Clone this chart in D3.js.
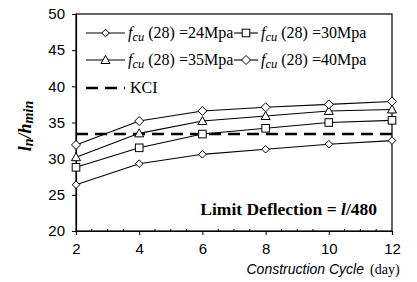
<!DOCTYPE html>
<html>
<head>
<meta charset="utf-8">
<script src="https://cdn.jsdelivr.net/npm/d3@7"></script>
<style>
  body { margin: 0; background: #fff; }
  svg { display: block; }
</style>
</head>
<body>
<svg id="chart" width="417" height="282"></svg>
<script>
// data
let cycles = [2, 4, 6, 8, 10, 12];
let fcu24 = [26.4, 29.3, 30.6, 31.3, 32.0, 32.5];
let fcu30 = [28.8, 31.5, 33.4, 34.2, 35.0, 35.3];
let fcu35 = [30.2, 33.5, 35.2, 35.9, 36.6, 36.8];
let fcu40 = [31.9, 35.2, 36.6, 37.1, 37.5, 37.9];
let kciValue = 33.4;
let xTicks = [2, 4, 6, 8, 10, 12];
let yTicks = [20, 25, 30, 35, 40, 45, 50];

let series = [
  { label: "24Mpa", values: fcu24, marker: "diamondSmall" },
  { label: "30Mpa", values: fcu30, marker: "square" },
  { label: "35Mpa", values: fcu35, marker: "triangle" },
  { label: "40Mpa", values: fcu40, marker: "diamond" }
];

let svg = d3.select("#chart");
let plotLeft = 76, plotRight = 392, plotTop = 14, plotBottom = 231;

let x = d3.scaleLinear().domain([2, 12]).range([plotLeft, plotRight]);
let y = d3.scaleLinear().domain([20, 50]).range([plotBottom, plotTop]);

let sansFont = "'Liberation Sans', Arial, sans-serif";
let serifFont = "'Liberation Serif', 'Times New Roman', serif";

// frame
svg.append("rect")
  .attr("x", plotLeft).attr("y", plotTop)
  .attr("width", plotRight - plotLeft).attr("height", plotBottom - plotTop)
  .attr("fill", "none").attr("stroke", "#000").attr("stroke-width", 1.2);

// y axis
let yAxis = svg.append("g")
  .attr("transform", "translate(" + plotLeft + ",0)")
  .call(d3.axisLeft(y).tickValues(yTicks).tickSize(4).tickPadding(7));
yAxis.select(".domain").attr("stroke-width", 1.2);
yAxis.selectAll("text").attr("font-family", sansFont).attr("font-size", 15).attr("fill", "#000");

// x axis
let xAxis = svg.append("g")
  .attr("transform", "translate(0," + plotBottom + ")")
  .call(d3.axisBottom(x).tickValues(xTicks).tickSize(4).tickPadding(8));
xAxis.select(".domain").attr("stroke-width", 1.2);
xAxis.selectAll("text").attr("font-family", sansFont).attr("font-size", 15).attr("fill", "#000");

// minor ticks on x axis, pointing in
let minorTicks = d3.range(2.5, 12, 0.5).filter(d => d % 2 !== 0);
svg.append("g").selectAll("line")
  .data(minorTicks)
  .join("line")
  .attr("x1", d => x(d)).attr("x2", d => x(d))
  .attr("y1", plotBottom).attr("y2", plotBottom - 2)
  .attr("stroke", "#000").attr("stroke-width", 1);

// KCI line
svg.append("line")
  .attr("x1", plotLeft).attr("x2", plotRight)
  .attr("y1", y(kciValue)).attr("y2", y(kciValue))
  .attr("stroke", "#000").attr("stroke-width", 2.6)
  .attr("stroke-dasharray", "12,7");

let line = d3.line()
  .x((d, i) => x(cycles[i]))
  .y(d => y(d));

function drawMarker(g, type, cx, cy) {
  if (type === "square") {
    g.append("rect").attr("x", cx - 3.8).attr("y", cy - 3.8)
      .attr("width", 7.6).attr("height", 7.6)
      .attr("fill", "#fff").attr("stroke", "#000").attr("stroke-width", 1);
  } else if (type === "triangle") {
    g.append("path")
      .attr("d", "M" + cx + "," + (cy - 4.5) + "L" + (cx + 4.5) + "," + (cy + 3.5) + "L" + (cx - 4.5) + "," + (cy + 3.5) + "Z")
      .attr("fill", "#fff").attr("stroke", "#000").attr("stroke-width", 1);
  } else {
    let r = type === "diamond" ? 4.5 : 3.8;
    g.append("path")
      .attr("d", "M" + cx + "," + (cy - r) + "L" + (cx + r) + "," + cy + "L" + cx + "," + (cy + r) + "L" + (cx - r) + "," + cy + "Z")
      .attr("fill", "#fff").attr("stroke", "#000").attr("stroke-width", 1);
  }
}

// series lines and markers
series.forEach(function (s) {
  svg.append("path")
    .datum(s.values)
    .attr("d", line)
    .attr("fill", "none").attr("stroke", "#000").attr("stroke-width", 1.1);
  let g = svg.append("g");
  s.values.forEach(function (v, i) {
    drawMarker(g, s.marker, x(cycles[i]), y(v));
  });
});

// legend
let legendItems = [
  { s: series[0], lx: 86, ly: 33, w: 39 },
  { s: series[1], lx: 234, ly: 33, w: 24 },
  { s: series[2], lx: 86, ly: 60, w: 39 },
  { s: series[3], lx: 234, ly: 60, w: 24 }
];

legendItems.forEach(function (item) {
  let g = svg.append("g");
  g.append("line")
    .attr("x1", item.lx).attr("x2", item.lx + item.w)
    .attr("y1", item.ly).attr("y2", item.ly)
    .attr("stroke", "#000").attr("stroke-width", 1.1);
  drawMarker(g, item.s.marker, item.lx + item.w / 2, item.ly);
  let t = g.append("text")
    .attr("x", item.lx + item.w + 3).attr("y", item.ly + 5)
    .attr("font-family", serifFont).attr("font-size", 16).attr("fill", "#000");
  t.append("tspan").attr("font-style", "italic").text("f");
  t.append("tspan").attr("font-style", "italic").attr("font-size", 12.5).attr("dy", 3).text("cu");
  t.append("tspan").attr("dy", -3).text(" (28) =" + item.s.label);
});

svg.append("line")
  .attr("x1", 86).attr("x2", 125)
  .attr("y1", 88).attr("y2", 88)
  .attr("stroke", "#000").attr("stroke-width", 2.6)
  .attr("stroke-dasharray", "12,7");
svg.append("text")
  .attr("x", 130).attr("y", 93)
  .attr("font-family", serifFont).attr("font-size", 16).attr("fill", "#000")
  .text("KCI");

// annotation
let note = svg.append("text")
  .attr("x", 377).attr("y", 215)
  .attr("text-anchor", "end")
  .attr("font-family", serifFont).attr("font-size", 17.5)
  .attr("font-weight", "bold").attr("fill", "#000");
note.append("tspan").text("Limit Deflection = ");
note.append("tspan").attr("font-style", "italic").text("l");
note.append("tspan").text("/480");

// y label
let yl = svg.append("text")
  .attr("transform", "translate(31,126) rotate(-90)")
  .attr("text-anchor", "middle")
  .attr("font-family", serifFont).attr("font-size", 18)
  .attr("font-style", "italic").attr("font-weight", "bold").attr("fill", "#000");
yl.append("tspan").text("l");
yl.append("tspan").attr("font-size", 14).attr("dy", 2).text("n");
yl.append("tspan").attr("dy", -2).text("/h");
yl.append("tspan").attr("font-size", 14).attr("dy", 2).text("min");

// x label
svg.append("text")
  .attr("x", 364).attr("y", 274)
  .attr("text-anchor", "end")
  .attr("font-family", sansFont).attr("font-size", 14)
  .attr("font-style", "italic").attr("fill", "#000")
  .text("Construction Cycle");
svg.append("text")
  .attr("x", 370).attr("y", 274)
  .attr("font-family", serifFont).attr("font-size", 14).attr("fill", "#000")
  .text("(day)");
</script>
</body>
</html>
